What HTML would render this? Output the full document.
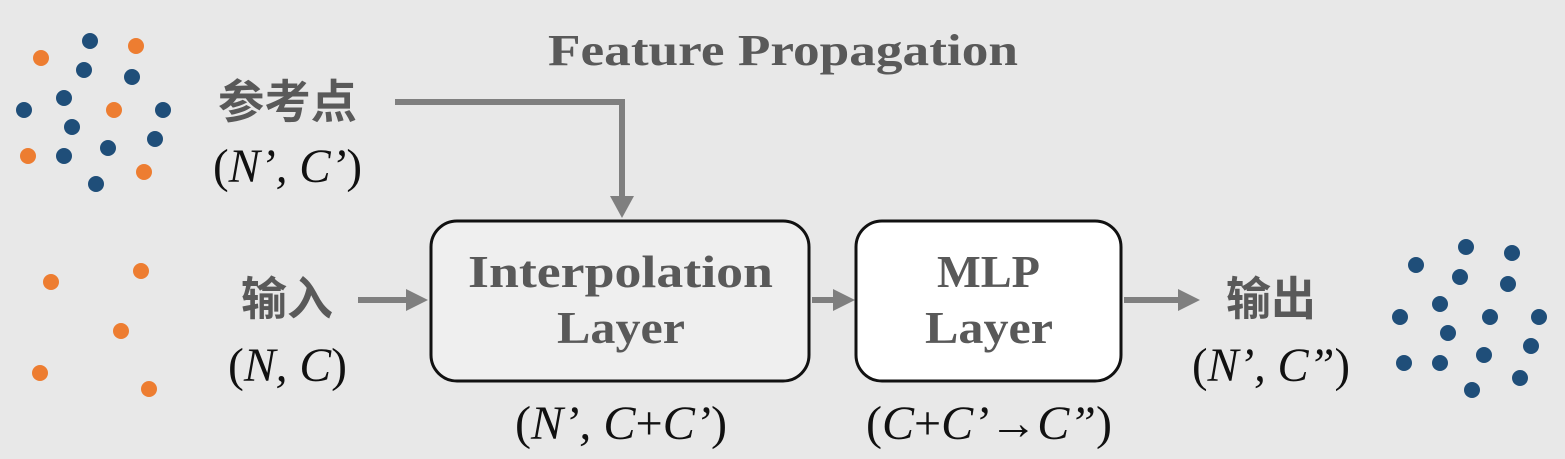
<!DOCTYPE html>
<html><head><meta charset="utf-8"><style>
html,body{margin:0;padding:0;background:#e8e8e8;}
svg{display:block}
.t{font-family:"Liberation Serif","Noto Serif CJK SC",serif;font-weight:bold;fill:#595959;}
.c{font-family:"Liberation Sans","Noto Sans CJK SC",sans-serif;font-weight:bold;fill:#595959;}
.m{font-family:"Liberation Serif",serif;font-style:italic;fill:#111;}
.p{font-style:normal}
</style></head><body>
<svg width="1565" height="459" viewBox="0 0 1565 459" xmlns="http://www.w3.org/2000/svg">
<rect width="1565" height="459" fill="#e8e8e8"/>
<g fill="#1f4e79">
<circle cx="90" cy="41" r="8"/><circle cx="84" cy="70" r="8"/><circle cx="132" cy="77" r="8"/><circle cx="64" cy="98" r="8"/><circle cx="163" cy="110" r="8"/><circle cx="72" cy="127" r="8"/><circle cx="155" cy="139" r="8"/><circle cx="108" cy="148" r="8"/><circle cx="64" cy="156" r="8"/><circle cx="96" cy="184" r="8"/><circle cx="24" cy="110" r="8"/>
<circle cx="1466" cy="247" r="8"/><circle cx="1512" cy="253" r="8"/><circle cx="1416" cy="265" r="8"/><circle cx="1460" cy="277" r="8"/><circle cx="1508" cy="284" r="8"/><circle cx="1440" cy="304" r="8"/><circle cx="1400" cy="317" r="8"/><circle cx="1490" cy="317" r="8"/><circle cx="1539" cy="317" r="8"/><circle cx="1448" cy="333" r="8"/><circle cx="1531" cy="346" r="8"/><circle cx="1484" cy="355" r="8"/><circle cx="1404" cy="363" r="8"/><circle cx="1440" cy="363" r="8"/><circle cx="1520" cy="378" r="8"/><circle cx="1472" cy="390" r="8"/>
</g>
<g fill="#ed7d31">
<circle cx="41" cy="58" r="8"/><circle cx="136" cy="46" r="8"/><circle cx="114" cy="110" r="8"/><circle cx="28" cy="156" r="8"/><circle cx="144" cy="172" r="8"/>
<circle cx="51" cy="282" r="8"/><circle cx="141" cy="271" r="8"/><circle cx="121" cy="331" r="8"/><circle cx="40" cy="373" r="8"/><circle cx="149" cy="389" r="8"/>
</g>
<g stroke="#7f7f7f" stroke-width="6" fill="none">
<polyline points="395,102 622,102 622,198"/>
<line x1="358" y1="300" x2="408" y2="300"/>
<line x1="812" y1="300" x2="835" y2="300"/>
<line x1="1124" y1="300" x2="1180" y2="300"/>
</g>
<g fill="#7f7f7f">
<polygon points="610,196 634,196 622,218"/>
<polygon points="406,289 428,300 406,311"/>
<polygon points="833,289 855,300 833,311"/>
<polygon points="1178,289 1200,300 1178,311"/>
</g>
<rect x="431" y="221" width="378" height="160" rx="26" fill="#efefef" stroke="#111" stroke-width="3"/>
<rect x="856" y="221" width="265" height="160" rx="26" fill="#fff" stroke="#111" stroke-width="3"/>
<text class="t" x="548" y="65" font-size="44" textLength="470" lengthAdjust="spacingAndGlyphs">Feature Propagation</text>
<text class="t" x="468" y="287" font-size="46" textLength="305" lengthAdjust="spacingAndGlyphs">Interpolation</text>
<text class="t" x="557" y="343" font-size="46" textLength="128" lengthAdjust="spacingAndGlyphs">Layer</text>
<text class="t" x="937" y="287" font-size="46" textLength="103" lengthAdjust="spacingAndGlyphs">MLP</text>
<text class="t" x="925" y="343" font-size="46" textLength="128" lengthAdjust="spacingAndGlyphs">Layer</text>
<text class="c" x="218" y="118" font-size="46" textLength="139" lengthAdjust="spacingAndGlyphs">参考点</text>
<text class="c" x="241" y="315" font-size="46" textLength="92" lengthAdjust="spacingAndGlyphs">输入</text>
<text class="c" x="1226" y="315" font-size="46" textLength="90" lengthAdjust="spacingAndGlyphs">输出</text>
<text class="m" x="213" y="182" font-size="48" textLength="149" lengthAdjust="spacingAndGlyphs"><tspan class="p">(</tspan>N’, C’<tspan class="p">)</tspan></text>
<text class="m" x="228" y="381" font-size="48" textLength="119" lengthAdjust="spacingAndGlyphs"><tspan class="p">(</tspan>N, C<tspan class="p">)</tspan></text>
<text class="m" x="1192" y="381" font-size="48" textLength="158" lengthAdjust="spacingAndGlyphs"><tspan class="p">(</tspan>N’, C”<tspan class="p">)</tspan></text>
<text class="m" x="515" y="439" font-size="48" textLength="212" lengthAdjust="spacingAndGlyphs"><tspan class="p">(</tspan>N’, C<tspan class="p">+</tspan>C’<tspan class="p">)</tspan></text>
<text class="m" x="866" y="439" font-size="48" textLength="246" lengthAdjust="spacingAndGlyphs"><tspan class="p">(</tspan>C<tspan class="p">+</tspan>C’<tspan class="p">→</tspan>C”<tspan class="p">)</tspan></text>
</svg>
</body></html>
